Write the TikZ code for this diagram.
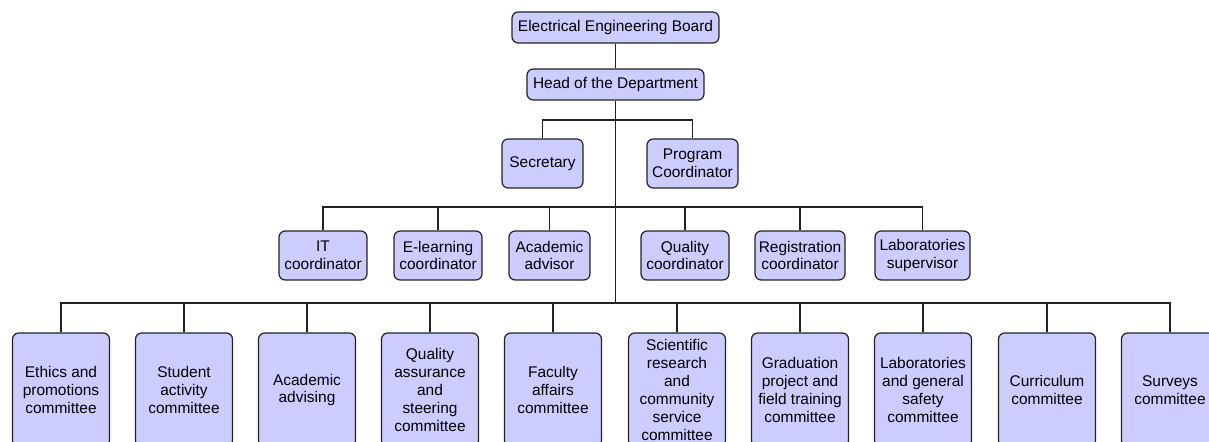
\documentclass[tikz,border=0pt]{standalone}
\usepackage{fontspec}
\setmainfont{Liberation Sans}
\usepackage{xcolor}
\usetikzlibrary{positioning, calc}
\definecolor{boxfill}{HTML}{CCCCFF}
\definecolor{boxline}{HTML}{222222}
\tikzset{
	every node/.style={
		align=center,
		font=\fontsize{8.8}{10.2}\selectfont,
	},
	box/.style={draw=boxline, fill=boxfill, line width=0.7pt, rounded corners=3.5pt, inner sep=1pt},
	head box/.style={box, minimum height=0.62cm},
	staff box/.style={box, minimum height=0.98cm},
	committee box/.style={box, minimum width=1.94cm, minimum height=2.28cm},
	link/.style={draw=boxline, line width=0.7pt},
}

\begin{document}
\begin{tikzpicture}[x=0.02cm, y=-0.02cm]
    \useasboundingbox (0,0) rectangle (1209,442);
    \clip (0,0) rectangle (1209,442);

    \node[head box, minimum width=4.14cm] (board) at (615.5,27.5) {Electrical Engineering Board};
    \node[head box, minimum width=3.54cm] (head) at (615.5,84.5) {Head of the Department};

    \node[staff box, minimum width=1.62cm] (secretary) at (542.5,163.5) {Secretary};
    \node[staff box, minimum width=1.82cm] (program) at (692.5,163.5) {Program\\Coordinator};

    \node[staff box, minimum width=1.76cm] (itco) at (323,255.5) {IT\\coordinator};
    \node[staff box, minimum width=1.76cm] (elearn) at (438,255.5) {E-learning\\coordinator};
    \node[staff box, minimum width=1.62cm] (advisor) at (549.5,255.5) {Academic\\advisor};
    \node[staff box, minimum width=1.76cm] (quality) at (685,255.5) {Quality\\coordinator};
    \node[staff box, minimum width=1.80cm] (registration) at (800,255.5) {Registration\\coordinator};
    \node[staff box, minimum width=1.90cm] (labsup) at (922.5,255.5) {Laboratories\\supervisor};

    \node[committee box] (ethics) at (61,390) {Ethics and\\promotions\\committee};
    \node[committee box] (student) at (184,390) {Student\\activity\\committee};
    \node[committee box] (advising) at (307,390) {Academic\\advising};
    \node[committee box] (assurance) at (430,390) {Quality\\assurance\\and\\steering\\committee};
    \node[committee box] (faculty) at (553,390) {Faculty\\affairs\\committee};
    \node[committee box] (research) at (677,390) {Scientific\\research\\and\\community\\service\\committee};
    \node[committee box] (graduation) at (800,390) {Graduation\\project and\\field training\\committee};
    \node[committee box] (labsafety) at (923,390) {Laboratories\\and general\\safety\\committee};
    \node[committee box] (curriculum) at (1047,390) {Curriculum\\committee};
    \node[committee box] (surveys) at (1170,390) {Surveys\\committee};

    \coordinate (bus1) at (615.5,120);
    \coordinate (bus3) at (615.5,207);
    \coordinate (bus4) at (615.5,303);

    \draw[link] (board) -- (head);
    \draw[link] (head) -- (bus4);

    \draw[link] (secretary.north) -- (secretary.north |- bus1) -| (program.north);

    \draw[link] (itco.north) -- (itco.north |- bus3) -| (labsup.north);
    \foreach \n in {elearn, advisor, quality, registration}
        \draw[link] (\n.north) -- (\n.north |- bus3);

    \draw[link] (ethics.north) -- (ethics.north |- bus4) -| (surveys.north);
    \foreach \n in {student, advising, assurance, faculty, research, graduation, labsafety, curriculum}
        \draw[link] (\n.north) -- (\n.north |- bus4);

\end{tikzpicture}
\end{document}
